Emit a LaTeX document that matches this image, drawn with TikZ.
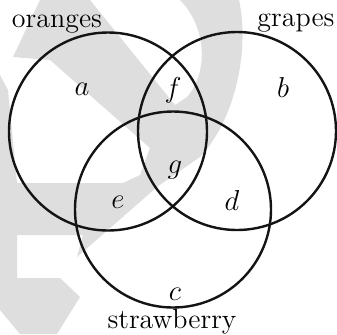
\documentclass[tikz,border=0pt]{standalone}
\usepackage{amsmath}
\usepackage{xcolor}
\usepackage{tikz}
\definecolor{markgray}{RGB}{222,222,222}
\definecolor{setblack}{RGB}{20,20,20}

\begin{document}
\begin{tikzpicture}[x=0.5pt, y=-0.5pt, font=\fontsize{14}{17}\selectfont]
\useasboundingbox (0,0) rectangle (337,334);

% ==========================================
% Background watermark
% ==========================================
\fill[markgray] (40,0) -- (90,0) -- (175,105) -- (187,97)
  .. controls (210,70) and (205,25) .. (180,0) -- (239,0)
  .. controls (250,50) and (235,120) .. (200,157) -- (157,187) -- (77,257)
  -- (83,235) -- (17,235) -- (17,278) -- (60,278) -- (80,297) -- (57,334)
  -- (20,334) -- (0,310) -- (0,75) -- (8,90) -- (17,183) -- (123,183)
  -- (140,175) -- (150,148) -- (50,60) -- (13,57) -- cycle;

% ==========================================
% Sets
% ==========================================
\draw[setblack, line width=1.2pt] (108,131.5) circle[radius=49.5pt];
\draw[setblack, line width=1.2pt] (237,131) circle[radius=49.5pt];
\draw[setblack, line width=1.2pt] (173,209.5) circle[radius=49pt];

% Set names
\node[anchor=base] (oranges) at (57,27) {oranges};
\node[anchor=base] (grapes) at (296,26) {grapes};
\node[anchor=base] (strawberry) at (172,328) {strawberry};

% ==========================================
% Region letters
% ==========================================
\node[anchor=base] (ra) at (82,95) {$a$};
\node[anchor=base] (rb) at (283,97) {$b$};
\node[anchor=base] (rc) at (175,300) {$c$};
\node[anchor=base] (rd) at (232,210) {$d$};
\node[anchor=base] (re) at (118,208) {$e$};
\node[anchor=base] (rf) at (173,97) {$f$};
\node[anchor=base] (rg) at (175,173) {$g$};

\end{tikzpicture}
\end{document}
